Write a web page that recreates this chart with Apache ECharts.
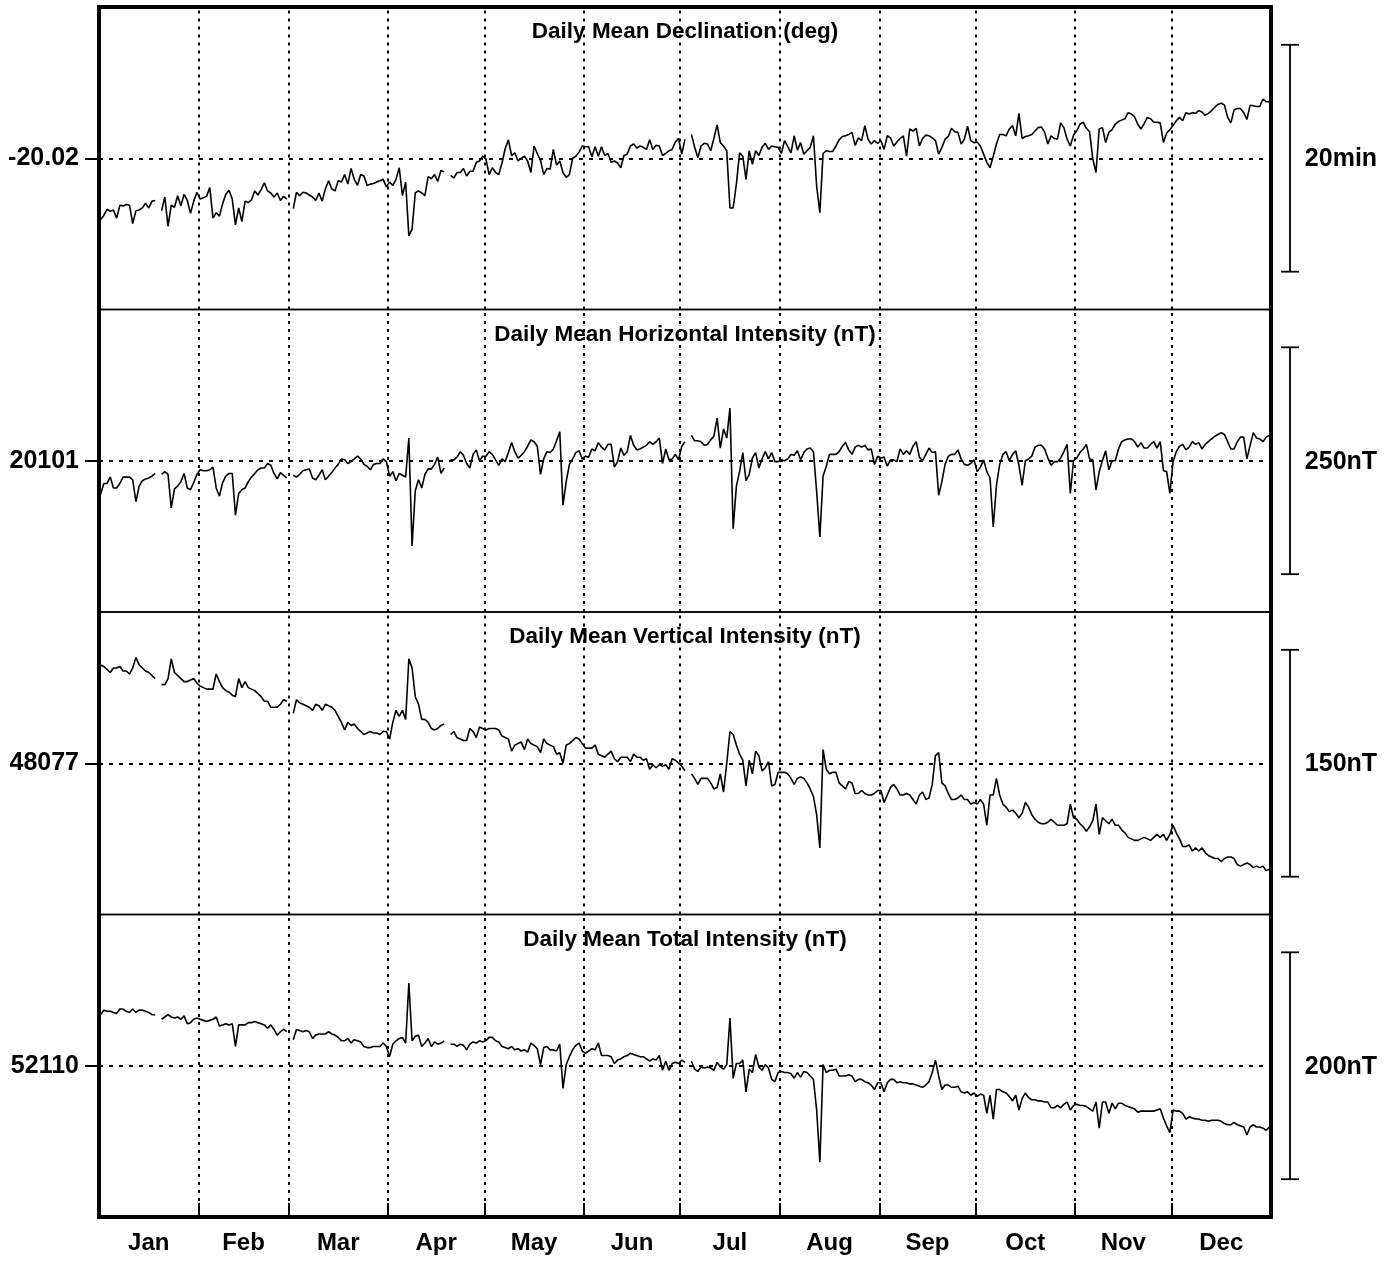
<!DOCTYPE html>
<html>
<head>
<meta charset="utf-8">
<script src="https://cdn.jsdelivr.net/npm/echarts@6/dist/echarts.min.js"></script>
<style>
  html, body { margin: 0; padding: 0; background: #fff; }
  #chart { width: 1393px; height: 1261px; }
</style>
</head>
<body>
<div id="chart"></div>
<script>
// months (non-leap year), boundaries given as day of year
const monthNames = ['Jan', 'Feb', 'Mar', 'Apr', 'May', 'Jun', 'Jul', 'Aug', 'Sep', 'Oct', 'Nov', 'Dec'];
const monthStarts = [0, 31, 59, 90, 120, 151, 181, 212, 243, 273, 304, 334, 365];

// panels
const panelTitles = [
  'Daily Mean Declination (deg)',
  'Daily Mean Horizontal Intensity (nT)',
  'Daily Mean Vertical Intensity (nT)',
  'Daily Mean Total Intensity (nT)'
];
const baseValues = [-20.02, 20101, 48077, 52110];
const scaleLabels = ['20min', '250nT', '150nT', '200nT'];
const scaleSizes = [20 / 60, 250, 150, 200];   // scale bar length, in the panel's own unit

// daily means, one per day, null = no data that day
const declination = [
  -20.110, -20.104, -20.095, -20.098, -20.096, -20.108, -20.089, -20.090, -20.088, -20.089,
  -20.116, -20.097, -20.096, -20.093, -20.086, -20.093, -20.083, -20.082, null,
  -20.097, -20.077, -20.120, -20.089, -20.092, -20.075, -20.090, -20.073, -20.082, -20.101,
  -20.083, -20.070, -20.080, -20.078, -20.076, -20.063, -20.108, -20.100, -20.105, -20.087,
  -20.073, -20.067, -20.080, -20.118, -20.093, -20.113, -20.083, -20.085, -20.081, -20.068,
  -20.074, -20.066, -20.056, -20.068, -20.071, -20.077, -20.071, -20.082, -20.076, -20.080, null,
  -20.094, -20.070, -20.075, -20.070, -20.071, -20.074, -20.077, -20.082, -20.071, -20.083,
  -20.065, -20.053, -20.065, -20.068, -20.053, -20.055, -20.044, -20.058, -20.035, -20.051,
  -20.060, -20.044, -20.046, -20.060, -20.058, -20.057, -20.055, -20.053, -20.051, -20.062,
  -20.055, -20.060, -20.051, -20.034, -20.075, -20.055, -20.134, -20.124, -20.071, -20.068,
  -20.071, -20.075, -20.047, -20.050, -20.044, -20.054, -20.038, -20.040, null,
  -20.045, -20.049, -20.041, -20.041, -20.035, -20.046, -20.039, -20.039, -20.026, -20.024,
  -20.017,
  -20.021, -20.044, -20.034, -20.041, -20.044, -20.027, -20.006, -19.993, -20.016, -20.012,
  -20.024, -20.020, -20.017, -20.024, -20.041, -20.002, -20.013, -20.023, -20.044, -20.035,
  -20.036, -20.007, -20.030, -20.024, -20.041, -20.048, -20.044, -20.020, -20.017, -20.011,
  -20.002, -20.003, -20.003, -20.018, -20.003, -20.017, -20.003, -20.016, -20.013, -20.026,
  -20.024, -20.027, -20.034, -20.016, -20.014, -20.002, -19.999, -20.005, -20.002, -20.004,
  -20.007, -19.993, -20.007, -20.001, -20.002, -20.016, -20.013, -20.009, -20.007, -19.996,
  -19.991, -20.014, -19.992, null,
  -19.985, -20.004, -20.019, -20.002, -19.998, -19.999, -20.009, -19.991, -19.971, -19.997,
  -20.002, -20.009, -20.093, -20.093, -20.058, -20.012, -20.017, -20.051, -20.009, -20.029,
  -20.009, -20.016, -20.004, -19.998, -20.007, -20.002, -20.003, -20.004, -20.013, -19.994,
  -20.003, -20.012, -19.987, -20.008, -19.997, -20.014, -20.009, -20.004, -19.987, -20.061,
  -20.100, -20.013, -20.009, -20.010, -20.010, -20.002, -19.993, -19.988, -19.987, -19.985,
  -19.982, -20.001, -19.990, -19.994, -19.972, -19.992, -19.999, -19.994, -19.998, -19.994,
  -20.007, -19.987, -19.990, -20.002, -19.996,
  -19.991, -19.987, -20.017, -19.977, -19.980, -19.976, -20.002, -19.991, -19.986, -19.987,
  -19.990, -19.994, -20.014, -20.004, -19.992, -19.988, -19.976, -19.981, -19.982, -19.999,
  -19.992, -19.973, -19.994, -19.997, -19.996, -20.002, -20.014, -20.026, -20.034, -20.017,
  -19.999, -19.985, -19.985, -19.987, -19.977, -19.972, -19.987, -19.954, -19.991, -19.988,
  -19.987, -19.985, -19.980, -19.975, -19.974, -19.982, -19.999, -19.987, -19.991, -19.992,
  -19.968, -19.975, -19.992, -20.002, -19.986, -19.980, -19.970, -19.967, -19.976, -19.981,
  -20.021, -20.041, -19.977, -19.975, -19.997, -19.982, -19.978, -19.970, -19.966, -19.964,
  -19.962, -19.953, -19.955, -19.959, -19.970, -19.977, -19.969, -19.960, -19.962, -19.967,
  -19.967, -19.968, -19.997, -19.983, -19.978, -19.972, -19.965, -19.960, -19.965, -19.953,
  -19.955, -19.953, -19.954, -19.950, -19.952, -19.957, -19.954, -19.950, -19.945, -19.941,
  -19.939, -19.942, -19.960, -19.968, -19.949, -19.947, -19.947, -19.953, -19.963, -19.942,
  -19.943, -19.944, -19.944, -19.933, -19.937, -19.937
];

const horizontal = [
  20064, 20076, 20076, 20083, 20071, 20071, 20076, 20083, 20083, 20083,
  20080, 20056, 20073, 20079, 20081, 20082, 20084, 20087, null, 20086,
  20089, 20086, 20049, 20070, 20073, 20078, 20087, 20071, 20069, 20077,
  20086, 20091, 20090, 20090, 20091, 20094, 20071, 20062, 20077, 20084,
  20087, 20087, 20041, 20065, 20069, 20071, 20078, 20083, 20087, 20091,
  20093, 20093, 20098, 20096, 20087, 20081, 20088, 20085, 20082, null,
  20085, 20083, 20086, 20090, 20091, 20092, 20082, 20080, 20085, 20091,
  20080, 20084, 20088, 20093, 20097, 20103, 20102, 20098, 20100, 20103,
  20106, 20103, 20097, 20095, 20091, 20097, 20098, 20098, 20103, 20100,
  20084, 20089, 20079, 20087, 20085, 20083, 20126, 20007, 20068, 20080,
  20071, 20086, 20092, 20092, 20097, 20105, 20087, 20093, null, 20102,
  20102, 20105, 20111, 20107, 20098, 20093, 20108, 20113, 20101, 20106,
  20106, 20111, 20108, 20102, 20096, 20103, 20100, 20110, 20121, 20111,
  20104, 20107, 20111, 20117, 20124, 20122, 20117, 20086, 20103, 20111,
  20110, 20114, 20123, 20133, 20052, 20078, 20097, 20103, 20110, 20112,
  20103, 20106, 20105, 20114, 20112, 20121, 20116, 20113, 20119, 20119,
  20094, 20100, 20115, 20107, 20111, 20129, 20118, 20113, 20114, 20116,
  20118, 20122, 20119, 20122, 20126, 20098, 20114, 20102, 20103, 20108,
  20102, 20117, 20122, null, 20129, 20123, 20123, 20122, 20118, 20119,
  20124, 20128, 20148, 20115, 20136, 20126, 20159, 20026, 20073, 20089,
  20110, 20079, 20086, 20104, 20110, 20093, 20103, 20111, 20103, 20110,
  20100, 20100, 20102, 20101, 20103, 20108, 20107, 20112, 20102, 20110,
  20114, 20115, 20111, 20067, 20017, 20084, 20095, 20108, 20108, 20108,
  20111, 20117, 20121, 20113, 20108, 20116, 20118, 20116, 20118, 20113,
  20114, 20097, 20106, 20104, 20105, 20095, 20102, 20102, 20100, 20114,
  20108, 20112, 20108, 20117, 20122, 20105, 20101, 20108, 20115, 20110,
  20111, 20063, 20078, 20097, 20106, 20108, 20108, 20113, 20103, 20097,
  20096, 20098, 20102, 20089, 20094, 20102, 20089, 20082, 20028, 20074,
  20097, 20108, 20111, 20101, 20108, 20112, 20096, 20074, 20101, 20103,
  20106, 20116, 20118, 20118, 20114, 20104, 20096, 20100, 20100, 20104,
  20111, 20119, 20065, 20101, 20104, 20110, 20114, 20119, 20103, 20102,
  20069, 20089, 20101, 20112, 20091, 20101, 20101, 20114, 20122, 20124,
  20125, 20125, 20122, 20116, 20121, 20115, 20115, 20119, 20122, 20115,
  20122, 20090, 20089, 20065, 20100, 20111, 20117, 20119, 20113, 20116,
  20122, 20119, 20121, 20114, 20119, 20122, 20125, 20128, 20130, 20132,
  20130, 20122, 20114, 20114, 20122, 20127, 20127, 20103, 20118, 20132,
  20126, 20125, 20122, 20127, 20129
];

const vertical = [
  48142, 48141, 48139, 48137, 48140, 48140, 48141, 48138, 48138, 48136,
  48140, 48147, 48142, 48140, 48138, 48137, 48135, 48133, null, 48129,
  48129, 48133, 48146, 48137, 48135, 48133, 48131, 48131, 48132, 48133,
  48130, 48128, 48127, 48126, 48126, 48126, 48136, 48131, 48127, 48125,
  48124, 48122, 48121, 48133, 48127, 48131, 48127, 48126, 48125, 48123,
  48121, 48118, 48118, 48114, 48114, 48114, 48116, 48119, 48118, null,
  48110, 48119, 48117, 48116, 48115, 48114, 48112, 48116, 48115, 48112,
  48116, 48115, 48114, 48112, 48108, 48104, 48099, 48104, 48102, 48103,
  48100, 48098, 48096, 48097, 48098, 48097, 48097, 48096, 48098, 48098,
  48093, 48104, 48112, 48108, 48112, 48106, 48146, 48140, 48121, 48116,
  48106, 48106, 48104, 48100, 48099, 48100, 48102, 48103, null, 48096,
  48098, 48094, 48093, 48092, 48092, 48100, 48098, 48094, 48101, 48100,
  48099, 48100, 48100, 48100, 48099, 48095, 48094, 48093, 48085, 48089,
  48090, 48091, 48086, 48093, 48090, 48089, 48088, 48084, 48093, 48090,
  48089, 48088, 48083, 48084, 48077, 48089, 48090, 48092, 48094, 48093,
  48090, 48087, 48087, 48087, 48089, 48083, 48082, 48081, 48083, 48085,
  48080, 48078, 48081, 48081, 48081, 48078, 48083, 48081, 48081, 48079,
  48080, 48073, 48076, 48074, 48076, 48075, 48076, 48073, 48080, 48079,
  48077, 48075, 48072, null, 48070, 48067, 48063, 48067, 48067, 48067,
  48064, 48060, 48061, 48070, 48058, 48077, 48098, 48096, 48089, 48083,
  48079, 48062, 48079, 48070, 48085, 48082, 48072, 48074, 48078, 48062,
  48063, 48071, 48071, 48071, 48070, 48067, 48063, 48067, 48068, 48067,
  48064, 48060, 48055, 48043, 48021, 48086, 48073, 48070, 48071, 48071,
  48064, 48062, 48060, 48065, 48064, 48057, 48057, 48059, 48057, 48056,
  48056, 48057, 48059, 48059, 48051, 48056, 48061, 48063, 48060, 48056,
  48056, 48057, 48056, 48053, 48050, 48056, 48058, 48053, 48054, 48063,
  48082, 48084, 48064, 48062, 48057, 48053, 48053, 48054, 48056, 48053,
  48053, 48050, 48051, 48050, 48053, 48050, 48036, 48056, 48056, 48067,
  48056, 48050, 48048, 48045, 48046, 48044, 48041, 48044, 48051, 48048,
  48043, 48040, 48038, 48037, 48037, 48038, 48040, 48038, 48036, 48036,
  48036, 48037, 48050, 48041, 48040, 48037, 48035, 48032, 48035, 48039,
  48050, 48030, 48041, 48039, 48037, 48040, 48036, 48036, 48033, 48031,
  48028, 48027, 48026, 48026, 48027, 48028, 48027, 48026, 48028, 48030,
  48028, 48030, 48026, 48030, 48036, 48031, 48027, 48022, 48022, 48023,
  48019, 48021, 48019, 48021, 48018, 48016, 48015, 48014, 48014, 48012,
  48014, 48015, 48015, 48014, 48010, 48009, 48010, 48011, 48010, 48008,
  48009, 48008, 48009, 48006, 48007
];

const total = [
  52155, 52159, 52158, 52158, 52157, 52156, 52160, 52160, 52158, 52157,
  52160, 52157, 52159, 52159, 52158, 52157, 52155, 52155, null, 52151,
  52153, 52155, 52153, 52152, 52153, 52151, 52154, 52147, 52148, 52151,
  52152, 52151, 52150, 52149, 52150, 52151, 52153, 52145, 52146, 52147,
  52146, 52147, 52127, 52146, 52146, 52146, 52148, 52148, 52149, 52148,
  52147, 52146, 52143, 52146, 52142, 52137, 52140, 52142, 52140, null,
  52133, 52142, 52141, 52140, 52141, 52140, 52134, 52137, 52138, 52138,
  52138, 52140, 52138, 52137, 52135, 52132, 52132, 52134, 52130, 52133,
  52132, 52131, 52127, 52126, 52126, 52127, 52127, 52127, 52130, 52127,
  52118, 52129, 52132, 52134, 52135, 52130, 52183, 52132, 52136, 52137,
  52127, 52130, 52134, 52127, 52131, 52129, 52130, 52132, null, 52129,
  52129, 52127, 52129, 52128, 52124, 52129, 52131, 52130, 52132, 52131,
  52132, 52135, 52135, 52132, 52131, 52127, 52126, 52125, 52127, 52124,
  52125, 52123, 52124, 52122, 52130, 52128, 52125, 52111, 52126, 52127,
  52124, 52124, 52123, 52129, 52090, 52111, 52118, 52124, 52128, 52130,
  52123, 52121, 52123, 52125, 52124, 52130, 52119, 52119, 52119, 52118,
  52112, 52115, 52116, 52118, 52119, 52121, 52120, 52119, 52118, 52118,
  52116, 52114, 52116, 52115, 52119, 52106, 52114, 52106, 52112, 52113,
  52112, 52115, 52113, null, 52114, 52107, 52105, 52109, 52108, 52109,
  52108, 52106, 52113, 52109, 52107, 52111, 52152, 52099, 52112, 52112,
  52115, 52087, 52107, 52104, 52120, 52109, 52106, 52111, 52108, 52098,
  52096, 52104, 52105, 52104, 52104, 52103, 52099, 52104, 52100, 52105,
  52104, 52101, 52098, 52071, 52025, 52111, 52104, 52106, 52106, 52107,
  52101, 52101, 52101, 52102, 52101, 52096, 52098, 52098, 52096, 52095,
  52093, 52089, 52095, 52095, 52087, 52095, 52098, 52098, 52095, 52096,
  52095, 52095, 52094, 52094, 52093, 52092, 52091, 52093, 52096, 52104,
  52115, 52101, 52089, 52093, 52093, 52091, 52091, 52092, 52087, 52086,
  52087, 52084, 52086, 52083, 52085, 52084, 52068, 52084, 52063, 52089,
  52089, 52087, 52086, 52083, 52079, 52084, 52071, 52081, 52086, 52082,
  52080, 52080, 52079, 52079, 52078, 52078, 52073, 52073, 52075, 52073,
  52076, 52078, 52071, 52075, 52076, 52075, 52075, 52074, 52072, 52070,
  52078, 52055, 52078, 52078, 52068, 52077, 52072, 52077, 52077, 52075,
  52074, 52073, 52072, 52069, 52070, 52070, 52070, 52070, 52070, 52071,
  52072, 52064, 52057, 52051, 52071, 52070, 52070, 52068, 52063, 52065,
  52064, 52063, 52063, 52062, 52062, 52061, 52062, 52062, 52062, 52061,
  52059, 52058, 52058, 52060, 52058, 52057, 52056, 52049, 52056, 52058,
  52056, 52056, 52055, 52053, 52056
];

const panelData = [declination, horizontal, vertical, total];

// layout
const FONT = '"Liberation Sans", Arial, Helvetica, sans-serif';
const plotLeft = 99, plotWidth = 1172, plotTop = 7, panelHeight = 302.5;

const chart = echarts.init(document.getElementById('chart'));

const grids = [], xAxes = [], yAxes = [], series = [];
panelData.forEach((values, i) => {
  const last = i === panelData.length - 1;
  const half = scaleSizes[i] * 2 / 3;     // bar covers 3/4 of the panel height
  grids.push({
    left: plotLeft, width: plotWidth,
    top: plotTop + i * panelHeight, height: panelHeight,
    show: true, borderColor: '#000', borderWidth: 1.5,
    outerBoundsMode: 'none'
  });
  xAxes.push({
    type: 'value', gridIndex: i, min: 0, max: 365,
    axisLine: { show: false },
    splitLine: { show: false },
    axisTick: {
      show: last, inside: true, length: 14,
      customValues: monthStarts.slice(1, 12),
      lineStyle: { color: '#000', width: 2 }
    },
    axisLabel: {
      show: last, margin: 14,
      customValues: monthStarts.slice(0, 12).map((s, k) => (s + monthStarts[k + 1]) / 2),
      formatter: v => monthNames[monthStarts.findIndex(s => s > v) - 1],
      color: '#000', fontSize: 24, fontWeight: 'bold', fontFamily: FONT
    }
  });
  yAxes.push({
    type: 'value', gridIndex: i,
    min: baseValues[i] - half, max: baseValues[i] + half,
    axisLine: { show: false },
    splitLine: { show: false },
    axisTick: {
      show: true, length: 14, customValues: [baseValues[i]],
      lineStyle: { color: '#000', width: 2 }
    },
    axisLabel: {
      margin: 20, customValues: [baseValues[i]],
      formatter: v => String(baseValues[i]),
      color: '#000', fontSize: 25, fontWeight: 'bold', fontFamily: FONT
    }
  });
  series.push({
    type: 'line', xAxisIndex: i, yAxisIndex: i,
    data: values.map((v, d) => [d + 0.5, v]),
    showSymbol: false, symbol: 'none',
    lineStyle: { color: '#000', width: 1.6 },
    animation: false, silent: true,
    markLine: {
      silent: true, symbol: ['none', 'none'], animation: false,
      label: { show: false },
      lineStyle: { color: '#000', width: 2, type: [3, 5] },
      data: monthStarts.slice(1, 12).map(s => ({ xAxis: s })).concat([
        { yAxis: baseValues[i], lineStyle: { color: '#000', width: 1.8, type: [4, 6] } }
      ])
    }
  });
});

chart.setOption({
  animation: false,
  backgroundColor: '#fff',
  grid: grids,
  xAxis: xAxes,
  yAxis: yAxes,
  series: series
});

// titles, scale bars and outer frame
const graphics = [];
const centerX = chart.convertToPixel({ xAxisIndex: 0 }, 182.5);
panelData.forEach((values, i) => {
  const top = chart.convertToPixel({ yAxisIndex: i }, baseValues[i] + scaleSizes[i] / 2);
  const bottom = chart.convertToPixel({ yAxisIndex: i }, baseValues[i] - scaleSizes[i] / 2);
  const mid = chart.convertToPixel({ yAxisIndex: i }, baseValues[i]);
  const barX = 1290;
  const lineStyle = { stroke: '#000', lineWidth: 1.8 };
  graphics.push(
    { type: 'line', z: 20, shape: { x1: barX, y1: top, x2: barX, y2: bottom }, style: lineStyle },
    { type: 'line', z: 20, shape: { x1: barX - 9, y1: top, x2: barX + 9, y2: top }, style: lineStyle },
    { type: 'line', z: 20, shape: { x1: barX - 9, y1: bottom, x2: barX + 9, y2: bottom }, style: lineStyle },
    {
      type: 'text', z: 20, x: 1341, y: mid + 1,
      style: { text: scaleLabels[i], align: 'center', verticalAlign: 'middle',
               font: 'bold 25px ' + FONT, fill: '#000' }
    },
    {
      type: 'text', z: 20, x: centerX, y: plotTop + i * panelHeight + 25,
      style: { text: panelTitles[i], align: 'center', verticalAlign: 'middle',
               font: 'bold 22.5px ' + FONT, fill: '#000' }
    }
  );
});
graphics.push({
  type: 'rect', z: 30,
  shape: { x: plotLeft, y: plotTop, width: plotWidth, height: panelHeight * 4 },
  style: { stroke: '#000', fill: null, lineWidth: 4 }
});
chart.setOption({ graphic: graphics });
</script>
</body>
</html>
